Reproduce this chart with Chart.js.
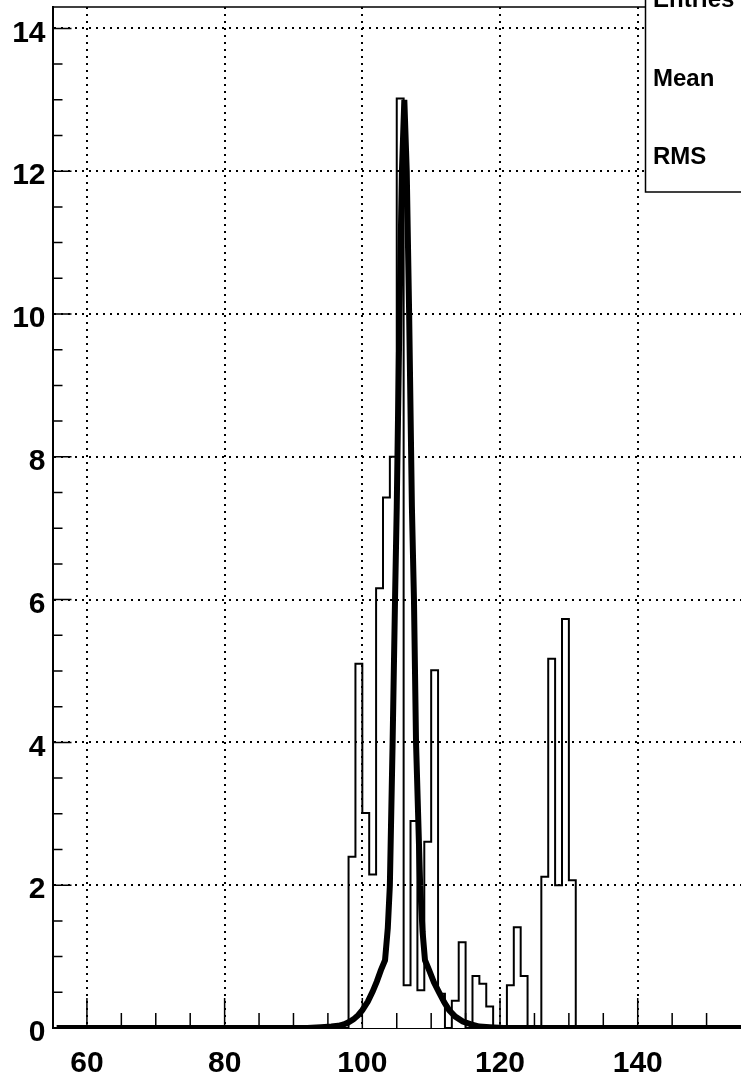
<!DOCTYPE html>
<html>
<head>
<meta charset="utf-8">
<script src="https://cdn.jsdelivr.net/npm/chart.js@4.4.1/dist/chart.umd.min.js"></script>
<style>
  html, body { margin: 0; padding: 0; background: #fff; }
  #wrap { width: 741px; height: 1080px; position: relative; }
</style>
</head>
<body>
<div id="wrap"><canvas id="histChart"></canvas></div>
<script>
// histogram, 1 unit bins, left edges + contents
const binEdges = [98, 99, 100, 101, 102, 103, 104, 105, 106, 107, 108, 109, 110, 111, 112, 113, 114,
  115, 116, 117, 118, 119, 120, 121, 122, 123, 124, 125, 126, 127, 128, 129, 130];
const binCounts = [2.40, 5.10, 3.01, 2.15, 6.16, 7.43, 8.00, 13.02, 0.60, 2.90, 0.53, 2.61, 5.01, 0.48, 0, 0.38, 1.20,
  0, 0.73, 0.62, 0.30, 0, 0, 0.60, 1.41, 0.73, 0, 0, 2.12, 5.17, 2.00, 5.73, 2.07];

// fit curve
const fitX = [55.6, 92, 94, 95.5, 96.5, 97.3, 98.0, 98.7, 99.4, 100.0, 100.8, 101.5, 102.1, 102.7, 103.3, 103.7,
  104.0, 104.4, 104.75, 105.0, 105.4, 105.75, 106.1, 106.45, 106.8, 107.2, 107.5, 107.8, 108.4, 108.75, 109.1,
  109.7, 110.4, 111.2, 111.9, 112.6, 113.5, 114.6, 115.8, 117.0, 118.5, 120.5, 155];
const fitY = [0, 0, 0.01, 0.02, 0.03, 0.05, 0.08, 0.12, 0.18, 0.25, 0.37, 0.51, 0.65, 0.81, 0.95, 1.4,
  2.0, 4.0, 6.0, 7.3, 10.0, 12.0, 13.0, 12.0, 10.0, 7.3, 6.0, 4.0, 2.0, 1.35, 0.95,
  0.81, 0.64, 0.49, 0.36, 0.25, 0.16, 0.09, 0.05, 0.02, 0.01, 0, 0];

const xMajor = [60, 80, 100, 120, 140];
const xLabels = ['60', '80', '100', '120', '140'];
const yMajor = [0, 2, 4, 6, 8, 10, 12, 14];
const yLabels = ['0', '2', '4', '6', '8', '10', '12', '14'];
const statNames = ['Entries', 'Mean', 'RMS'];

const xMin = 55, xMax = 155, yMax = 14.3;

const histData = [{ x: xMin, y: 0 }];
binEdges.forEach((e, i) => histData.push({ x: e, y: binCounts[i] }));
histData.push({ x: binEdges[binEdges.length - 1] + 1, y: 0 });
histData.push({ x: xMax, y: 0 });

const fitData = fitX.map((x, i) => ({ x: x, y: fitY[i] }));

const labelFont = { family: 'Liberation Sans, Arial, sans-serif', size: 30, weight: 'bold' };

// frame top, inside ticks and the stats box
const frameAndTicks = {
  id: 'frameAndTicks',
  afterDraw(chart) {
    const { ctx, chartArea: a, scales: { x, y } } = chart;
    ctx.save();
    ctx.strokeStyle = '#000';
    ctx.lineWidth = 1.5;
    ctx.beginPath();
    ctx.moveTo(a.left, a.top);
    ctx.lineTo(a.right, a.top);
    x.ticks.forEach(t => {
      if (t.value <= xMin || t.value >= xMax) return;
      const px = x.getPixelForValue(t.value);
      const len = xMajor.includes(t.value) ? 30 : 15;
      ctx.moveTo(px, a.bottom);
      ctx.lineTo(px, a.bottom - len);
    });
    y.ticks.forEach(t => {
      if (t.value <= 0) return;
      const py = y.getPixelForValue(t.value);
      const len = yMajor.includes(t.value) ? 19 : 10;
      ctx.moveTo(a.left, py);
      ctx.lineTo(a.left + len, py);
    });
    ctx.stroke();

    // stats box (cut off by the picture edge)
    ctx.fillStyle = '#fff';
    ctx.fillRect(645.5, -20, 120, 212);
    ctx.strokeRect(645.5, -20, 120, 212);
    ctx.fillStyle = '#000';
    ctx.font = 'bold 24px "Liberation Sans", Arial, sans-serif';
    ctx.textAlign = 'left';
    ctx.textBaseline = 'alphabetic';
    const baselines = [7, 86, 164];
    statNames.forEach((s, i) => ctx.fillText(s, 653, baselines[i]));
    ctx.restore();
  }
};

const ctx = document.getElementById('histChart').getContext('2d');

const chart = new Chart(ctx, {
  type: 'line',
  data: {
    datasets: [
      {
        label: 'fit',
        data: fitData,
        borderColor: '#000',
        borderWidth: 6,
        pointRadius: 0,
        tension: 0,
        fill: false
      },
      {
        label: 'hist',
        data: histData,
        borderColor: '#000',
        borderWidth: 2,
        pointRadius: 0,
        stepped: 'before',
        fill: false
      }
    ]
  },
  options: {
    responsive: true,
    maintainAspectRatio: false,
    animation: false,
    layout: { padding: { top: 7, right: 0, left: 0, bottom: 0 } },
    plugins: { legend: { display: false }, tooltip: { enabled: false } },
    scales: {
      x: {
        type: 'linear',
        min: xMin,
        max: xMax,
        afterFit(s) { s.height = 52; s.paddingLeft = 0; s.paddingRight = 0; },
        ticks: {
          stepSize: 5,
          autoSkip: false,
          maxRotation: 0,
          minRotation: 0,
          includeBounds: false,
          padding: 18,
          color: '#000',
          font: labelFont,
          callback: v => { const i = xMajor.indexOf(v); return i >= 0 ? xLabels[i] : ''; }
        },
        grid: {
          drawTicks: false,
          lineWidth: 2,
          color: c => (c.tick && xMajor.includes(c.tick.value) ? '#000' : 'rgba(0,0,0,0)')
        },
        border: { display: true, color: '#000', width: 1, dash: [2, 5] }
      },
      y: {
        type: 'linear',
        min: 0,
        max: yMax,
        afterFit(s) { s.width = 52.5; s.paddingTop = 0; s.paddingBottom = 0; },
        ticks: {
          stepSize: 0.5,
          autoSkip: false,
          includeBounds: false,
          padding: 7,
          labelOffset: 5,
          color: '#000',
          font: labelFont,
          callback: v => { const i = yMajor.indexOf(v); return i >= 0 ? yLabels[i] : ''; }
        },
        grid: {
          drawTicks: false,
          lineWidth: 2,
          color: c => (c.tick && yMajor.includes(c.tick.value) && c.tick.value !== 0 ? '#000' : 'rgba(0,0,0,0)')
        },
        border: { display: true, color: '#000', width: 2, dash: [2, 5] }
      }
    }
  },
  plugins: [frameAndTicks]
});
</script>
</body>
</html>
